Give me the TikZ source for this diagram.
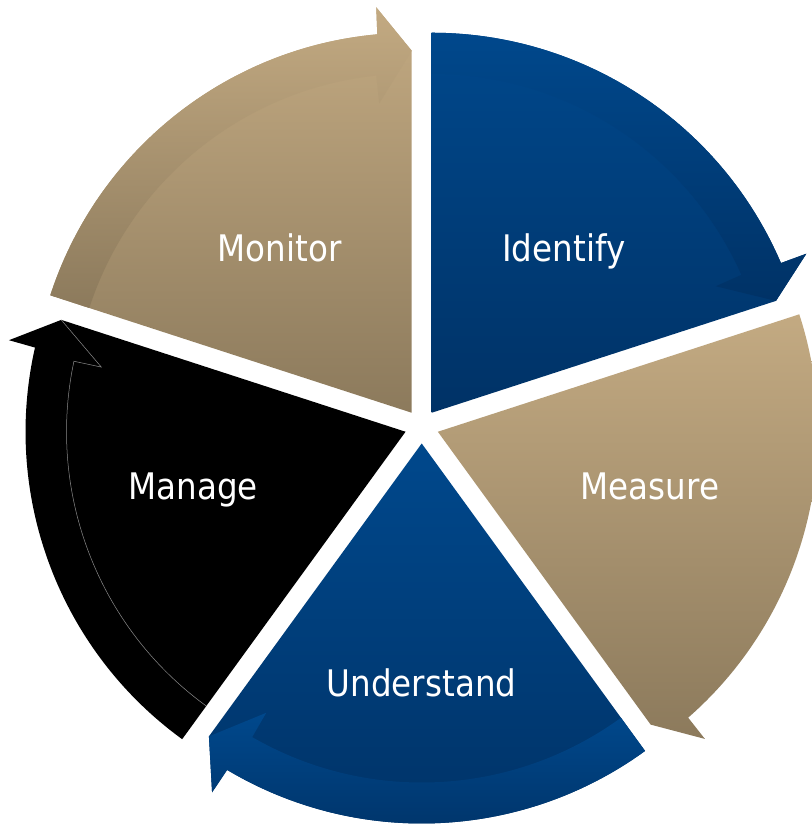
\documentclass[tikz,border=0pt]{standalone}
\usepackage{fontspec}
\setmainfont{DejaVu Sans}[FakeStretch=0.89]
\usetikzlibrary{calc}
\definecolor{bluetop}{RGB}{0,72,140}
\definecolor{bluebot}{RGB}{0,50,102}
\definecolor{tantop}{RGB}{195,170,130}
\definecolor{tanbot}{RGB}{140,122,92}
\definecolor{bandgray}{RGB}{140,140,140}
\tikzset{
  lbl/.style={text=white, anchor=base, inner sep=0pt, font=\fontsize{36.6}{40}\selectfont},
}
% #1 start angle, #2 top colour, #3 bottom colour, #4 draw band (1/0)
\newcommand\cycseg[4]{%
  \pgfmathsetmacro\segE{#1-72}%
  \pgfmathsetmacro\segB{#1-36}%
  \begin{scope}[shift={({421.7+17*cos(\segB)},{397.5+17*sin(\segB)})}]
    \shade[top color=#2, bottom color=#3] (0,0) -- (#1:380)
      arc[start angle=#1, end angle=\segE+5.2, radius=380]
      -- (\segE+5:407) -- (\segE:362) -- cycle;
    \ifnum#4=1
    \shade[top color=#2, bottom color=#3] (#1:380)
      arc[start angle=#1, end angle=\segE+5.2, radius=380]
      -- (\segE+5:407) -- (\segE:362) -- (\segE+6:311) -- (\segE+6:339)
      arc[start angle=\segE+6, end angle=#1, radius=339] -- cycle;
    \fi
  \end{scope}}
\begin{document}
\begin{tikzpicture}[x=1pt,y=1pt]
  \useasboundingbox (0,0) rectangle (811,824);
  \fill[white] (0,0) rectangle (811,824);
  \coordinate (C) at (421.7,397.5);
  % Identify
  \cycseg{90}{bluetop}{bluebot}{1}
  % Measure (band practically invisible)
  \cycseg{18}{tantop}{tanbot}{0}
  % Understand
  \cycseg{-54}{bluetop}{bluebot}{1}
  % Monitor
  \cycseg{162}{tantop}{tanbot}{1}
  % Manage (black, with thin grey outline of the arrow band)
  \pgfmathsetmacro\segE{234-72}
  \begin{scope}[shift={({421.7+17*cos(198)},{397.5+17*sin(198)})}]
    \fill[black] (0,0) -- (234:380)
      arc[start angle=234, end angle=\segE+5.2, radius=380]
      -- (\segE+5:407) -- (\segE:362) -- cycle;
    \draw[bandgray, line width=0.5pt] (\segE:362) -- (\segE+6:311) -- (\segE+6:339)
      arc[start angle=\segE+6, end angle=234, radius=339];
  \end{scope}
  \node[lbl] (identify) at (563.8,562.3) {Identify};
  \node[lbl] (monitor) at (279.5,562.3) {Monitor};
  \node[lbl] (manage) at (193,324.7) {Manage};
  \node[lbl] (measure) at (650,324.7) {Measure};
  \node[lbl] (understand) at (421.5,127.3) {Understand};
\end{tikzpicture}
\end{document}
